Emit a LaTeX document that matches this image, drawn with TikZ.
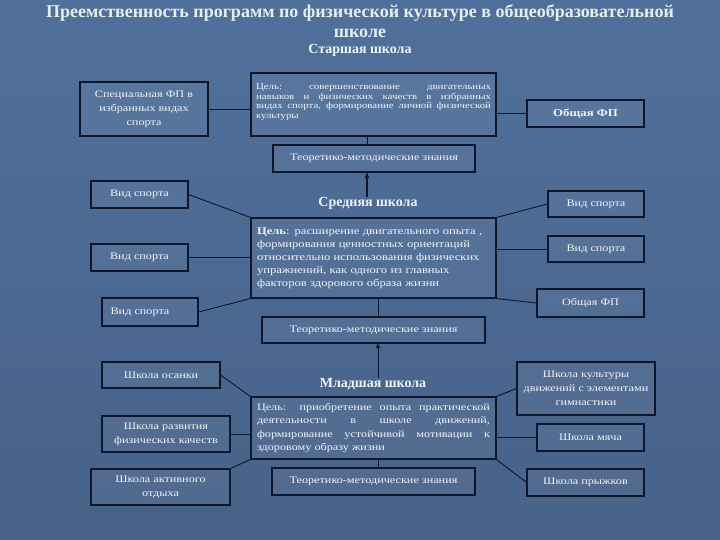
\documentclass[tikz,border=0pt]{standalone}
\usepackage{fontspec}
\setmainfont{Liberation Serif}
\newfontfamily\boxfont[FakeStretch=1.22]{Liberation Serif}
\usetikzlibrary{calc,arrows.meta}
\definecolor{bgtop}{RGB}{80,112,155}
\definecolor{bgbot}{RGB}{72,98,136}
\definecolor{edge}{RGB}{14,22,45}
\definecolor{txt}{RGB}{240,244,250}
\definecolor{ttl}{RGB}{228,240,238}
\tikzset{
  box/.style={draw=edge, line width=1.1pt, fill=white, fill opacity=0.05, text opacity=1,
    text=txt, inner sep=0pt, align=center, font=\boxfont\fontsize{10}{14}\selectfont},
  link/.style={draw=edge, line width=0.9pt},
  heading/.style={text=txt, inner sep=0pt, font=\bfseries\fontsize{14}{16}\selectfont},
}
\begin{document}
\begin{tikzpicture}[x=1pt,y=-1pt]
\shade[top color=bgtop, bottom color=bgbot] (0,0) rectangle (720,540);
\useasboundingbox (0,0) rectangle (720,540);

% title
\node[text=ttl, align=center, inner sep=0pt, font=\bfseries\fontsize{18}{20}\selectfont] (title) at (360,21)
  {Преемственность программ по физической культуре в общеобразовательной\\школе};
\node[heading] (h1) at (360,50) {Старшая школа};

% senior school
\node[box, minimum width=128pt, minimum height=54pt] (b1) at (144,109)
  {Специальная ФП в\\избранных видах\\спорта};
\node[box, minimum width=245pt, minimum height=63pt, text width=235pt, align=justify,
  font=\boxfont\fontsize{8.9}{9.6}\selectfont] (b2) at (373.5,104.5)
  {Цель:\ совершенствование двигательных\linebreak навыков и физических качеств в избранных\linebreak видах спорта, формирование личной физической\linebreak культуры\par\vspace{5pt}};
\node[box, minimum width=117pt, minimum height=27pt, font=\boxfont\bfseries\fontsize{10.5}{12}\selectfont] (b3) at (585.5,113.5) {Общая ФП};
\node[box, minimum width=202pt, minimum height=27pt] (b4) at (374,158.5) {Теоретико-методические знания};
\draw[link] (b1.east) -- (b1.east -| b2.west);
\draw[link] (b3.west -| b2.east) -- (b3.west);
\draw[link] ([xshift=-7pt]b4.north) -- ([xshift=-7pt]b4.north |- b2.south);

% middle school
\node[heading] (h2) at (368,203) {Средняя школа};
\draw[edge, line width=1.6pt, -{Stealth[length=6pt,width=5pt]}] ([xshift=-7pt]b4.south |- h2.north) -- ([xshift=-7pt]b4.south);
\node[box, minimum width=245pt, minimum height=80pt, text width=233pt, align=left,
  font=\boxfont\fontsize{10.3}{13}\selectfont] (b5) at (373.5,258)
  {{\bfseries Цель}: расширение двигательного опыта ,\\формирования ценностных ориентаций\\относительно использования физических\\упражнений, как одного из главных\\факторов здорового образа жизни};
\node[box, minimum width=97pt, minimum height=27pt] (L1) at (139.5,194.5) {Вид спорта};
\node[box, minimum width=97pt, minimum height=27pt] (L2) at (139.5,257.5) {Вид спорта};
\node[box, minimum width=96pt, minimum height=28pt] (L3) at (150,312) {\hspace*{-20pt}Вид спорта};
\node[box, minimum width=96pt, minimum height=26pt] (R1) at (596,204) {Вид спорта};
\node[box, minimum width=96pt, minimum height=26pt] (R2) at (596,249) {Вид спорта};
\node[box, minimum width=107pt, minimum height=28pt] (R3) at (590.5,303) {Общая ФП};
\draw[link] (L1.east) -- (b5.north west);
\draw[link] (L2.east) -- (L2.east -| b5.west);
\draw[link] (L3.east) -- (b5.south west);
\draw[link] (b5.north east) -- (R1.west);
\draw[link] (R2.west -| b5.east) -- (R2.west);
\draw[link] (b5.south east) -- (R3.west);
\node[box, minimum width=223pt, minimum height=26pt] (b6) at (373.5,330) {Теоретико-методические знания};
\draw[link] ([xshift=4.5pt]b6.north) -- ([xshift=4.5pt]b6.north |- b5.south);

% junior school
\node[heading] (h3) at (373,384) {Младшая школа};
\draw[edge, line width=0.9pt, -{Triangle[length=4.5pt,width=4pt]}] ([xshift=4.5pt]b6.south |- h3.north) -- ([xshift=4.5pt]b6.south);
\node[box, minimum width=245pt, minimum height=62pt, text width=233pt, align=justify,
  font=\boxfont\fontsize{10}{13.5}\selectfont] (b7) at (373.5,428)
  {Цель: приобретение опыта практической\linebreak деятельности в школе движений,\linebreak формирование устойчивой мотивации к\linebreak здоровому образу жизни};
\node[box, minimum width=203pt, minimum height=27pt] (b8) at (373.5,481.5) {Теоретико-методические знания};
\draw[link] ([xshift=4.5pt]b8.north) -- ([xshift=4.5pt]b8.north |- b7.south);
\node[box, minimum width=118pt, minimum height=26pt] (J1) at (161,375) {Школа осанки};
\node[box, minimum width=128pt, minimum height=36pt] (J2) at (166,434) {Школа развития\\физических качеств};
\node[box, minimum width=139pt, minimum height=36pt] (J3) at (160.5,487) {Школа активного\\отдыха};
\node[box, minimum width=138pt, minimum height=53pt] (K1) at (586,388.5) {Школа культуры\\движений с элементами\\гимнастики};
\node[box, minimum width=107pt, minimum height=27pt] (K2) at (590.5,437.5) {Школа мяча};
\node[box, minimum width=117pt, minimum height=27pt] (K3) at (585.5,482.5) {Школа прыжков};
\draw[link] (J1.east) -- (b7.north west);
\draw[link] (J2.east) -- (J2.east -| b7.west);
\draw[link] (J3.north east) -- (b7.south west);
\draw[link] (b7.north east) -- (K1.west);
\draw[link] (K2.west -| b7.east) -- (K2.west);
\draw[link] (b7.south east) -- (K3.west);
\end{tikzpicture}
\end{document}
